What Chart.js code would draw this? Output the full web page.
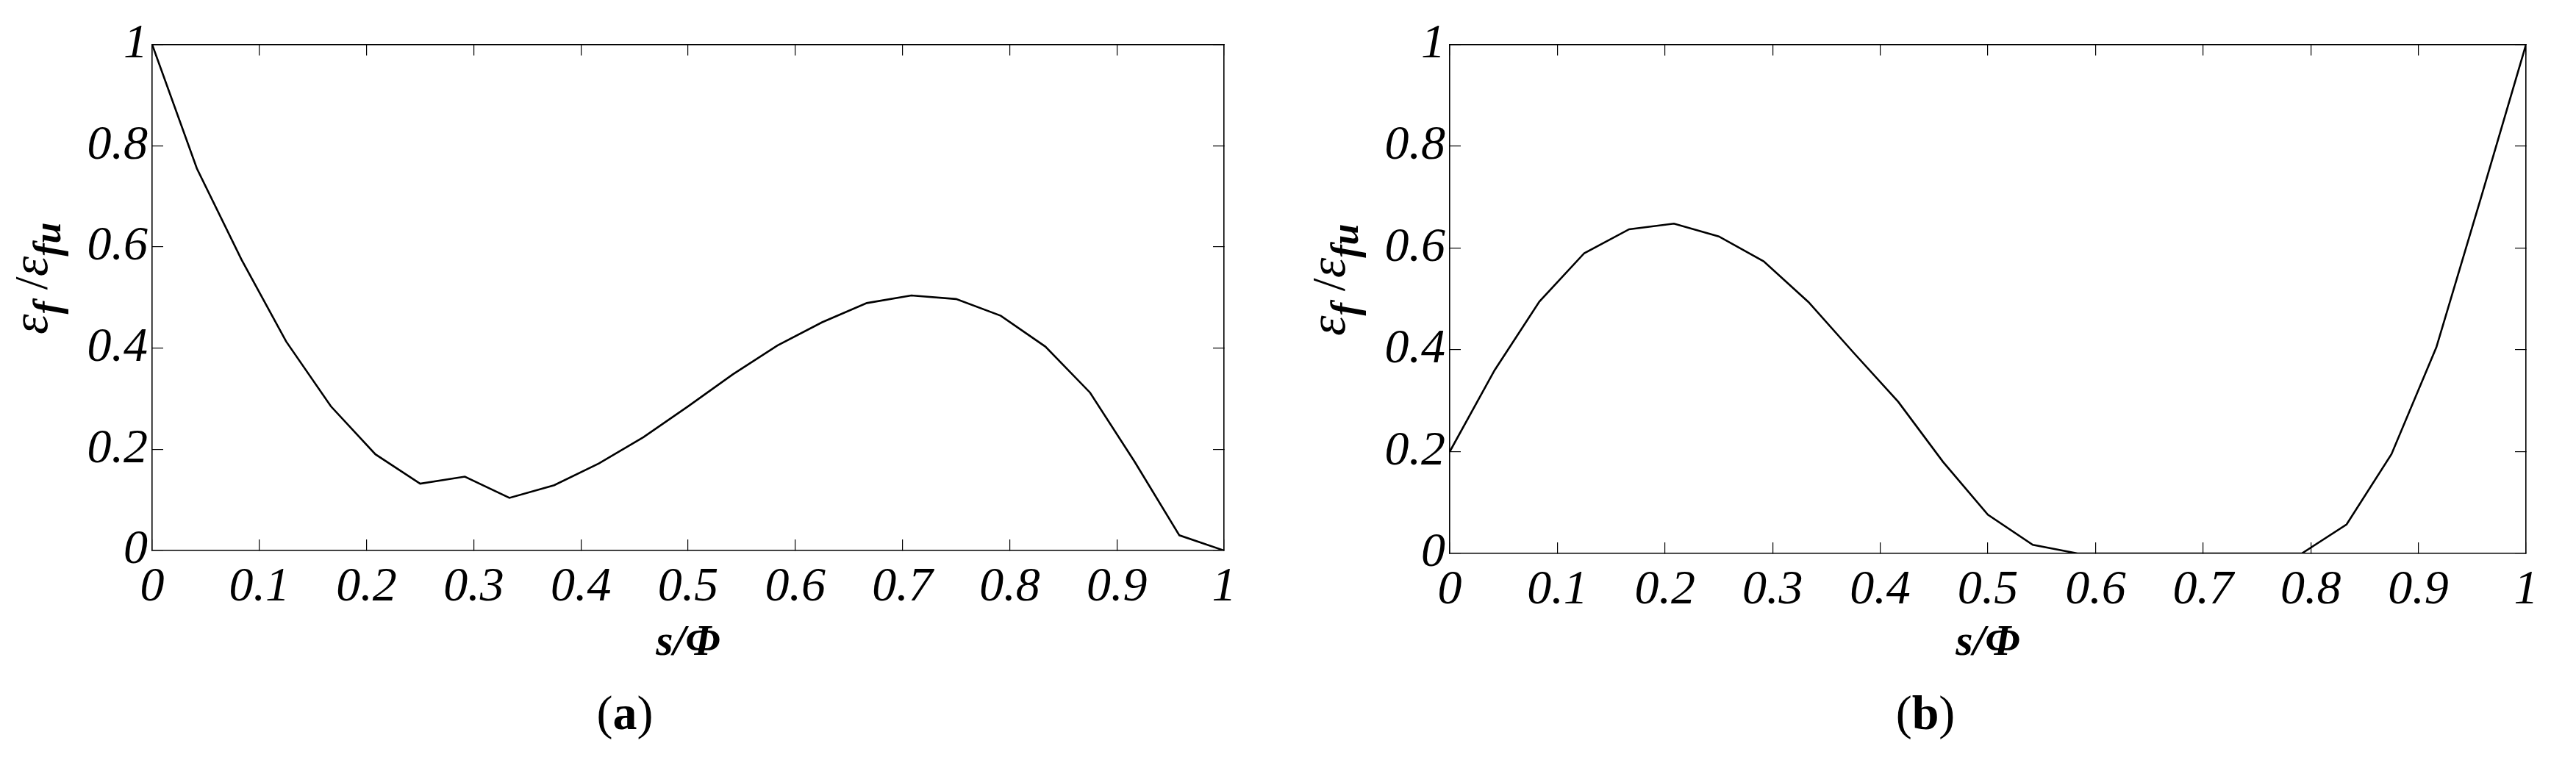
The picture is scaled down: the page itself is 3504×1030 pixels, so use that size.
<!DOCTYPE html>
<html><head><meta charset="utf-8">
<script src="https://cdn.jsdelivr.net/npm/chart.js@4"></script>
<style>
html,body{margin:0;padding:0;background:#fff;}
#wrap{position:relative;width:3504px;height:1030px;background:#fff;}
canvas{position:absolute;top:0;}
</style>
</head><body>
<div id="wrap">
<canvas id="ca" width="1752" height="1030" style="left:0px"></canvas>
<canvas id="cb" width="1752" height="1030" style="left:1752px"></canvas>
</div>
<script>
// ---- data ----
const sPhi = [0, 0.0417, 0.0833, 0.125, 0.1667, 0.2083, 0.25, 0.2917, 0.3333, 0.375, 0.4167, 0.4583, 0.5,
              0.5417, 0.5833, 0.625, 0.6667, 0.7083, 0.75, 0.7917, 0.8333, 0.875, 0.9167, 0.9583, 1];
const strainA = [1.0, 0.755, 0.575, 0.413, 0.285, 0.19, 0.132, 0.146, 0.104, 0.129, 0.172, 0.224, 0.285,
                 0.348, 0.405, 0.451, 0.489, 0.504, 0.497, 0.464, 0.403, 0.312, 0.175, 0.03, 0.0];
const strainB = [0.20, 0.36, 0.495, 0.59, 0.637, 0.648, 0.623, 0.574, 0.494, 0.395, 0.298, 0.18, 0.076,
                 0.017, 0.0, 0.0, 0.0, 0.0, 0.0, 0.0, 0.057, 0.195, 0.405, 0.70, 1.0];
const xTickValues = [0, 0.1, 0.2, 0.3, 0.4, 0.5, 0.6, 0.7, 0.8, 0.9, 1];
const xTickLabels = ['0', '0.1', '0.2', '0.3', '0.4', '0.5', '0.6', '0.7', '0.8', '0.9', '1'];
const yTickValues = [0, 0.2, 0.4, 0.6, 0.8, 1];
const yTickLabels = ['0', '0.2', '0.4', '0.6', '0.8', '1'];
const xTitle = 's/Φ';
const panelLetters = ['a', 'b'];

const SERIF = '"Liberation Serif", "Times New Roman", serif';
const tickFont = {family: SERIF, size: 66, style: 'italic', weight: 'normal', lineHeight: 1.2};

const textPlugin = {
  id: 'texts',
  afterDraw(chart, args, opts) {
    const ctx = chart.ctx, a = chart.chartArea;
    ctx.save();
    ctx.fillStyle = '#000';
    // x axis title
    ctx.textAlign = 'center';
    ctx.textBaseline = 'middle';
    ctx.font = 'bold italic 60px ' + SERIF;
    ctx.fillText(xTitle, (a.left + a.right) / 2, opts.xTitleY);
    // caption "(a)"
    const cap = [
      {t: '(', f: 'normal 66px ' + SERIF},
      {t: opts.letter, f: 'bold 66px ' + SERIF},
      {t: ')', f: 'normal 66px ' + SERIF}
    ];
    let w = 0;
    cap.forEach(p => { ctx.font = p.f; p.w = ctx.measureText(p.t).width; w += p.w; });
    let cx = opts.captionX - w / 2;
    ctx.textAlign = 'left';
    ctx.textBaseline = 'alphabetic';
    cap.forEach(p => { ctx.font = p.f; ctx.fillText(p.t, cx, opts.captionY); cx += p.w; });
    // y axis title: eps_f / eps_fu (rotated)
    const parts = [
      {t: 'ε', f: 'italic 70px ' + SERIF, dy: 0},
      {t: 'f', f: 'bold italic 52px ' + SERIF, dy: 18},
      {t: ' /', f: 'normal 64px ' + SERIF, dy: 0},
      {t: 'ε', f: 'italic 70px ' + SERIF, dy: 0},
      {t: 'fu', f: 'bold italic 52px ' + SERIF, dy: 18}
    ];
    let tw = 0;
    parts.forEach(p => { ctx.font = p.f; p.w = ctx.measureText(p.t).width; tw += p.w; });
    ctx.translate(a.left - 143, (a.top + a.bottom) / 2 - 26);
    ctx.rotate(-Math.PI / 2);
    let px = -tw / 2;
    parts.forEach(p => { ctx.font = p.f; ctx.fillText(p.t, px, p.dy); px += p.w; });
    ctx.restore();
  }
};

function axis(pos, isX, extra) {
  const base = {
    type: 'linear',
    position: pos,
    min: 0,
    max: 1,
    afterBuildTicks: s => { s.ticks = (isX ? xTickValues : yTickValues).map(v => ({value: v})); },
    grid: {display: true, drawOnChartArea: false, drawTicks: true, tickLength: -15, color: '#000', lineWidth: 1.2},
    border: {display: true, color: '#000', width: 1.6},
    ticks: {display: false}
  };
  return Object.assign(base, extra);
}

function makeChart(id, values, opts) {
  return new Chart(document.getElementById(id), {
    type: 'line',
    data: {
      datasets: [{
        data: sPhi.map((x, i) => ({x: x, y: values[i]})),
        borderColor: '#000',
        borderWidth: 2.6,
        pointRadius: 0,
        tension: 0,
        fill: false
      }]
    },
    options: {
      responsive: false,
      animation: false,
      events: [],
      layout: {padding: opts.padding},
      plugins: {legend: {display: false}, tooltip: {enabled: false}, texts: opts.texts},
      scales: {
        x: axis('bottom', true, {
          ticks: {display: true, autoSkip: false, maxRotation: 0, color: '#000', font: tickFont, padding: 26,
                  callback: (v, i) => xTickLabels[i]},
          afterFit: s => { s.height = opts.xAxisHeight; }
        }),
        x2: axis('top', true, {afterFit: s => { s.height = 0; }}),
        y: axis('left', false, {
          ticks: {display: true, autoSkip: false, color: '#000', font: tickFont, padding: 21,
                  callback: (v, i) => yTickLabels[i]},
          afterFit: s => { s.width = 120; }
        }),
        y2: axis('right', false, {afterFit: s => { s.width = 0; }})
      }
    },
    plugins: [textPlugin]
  });
}

makeChart('ca', strainA, {
  padding: {left: 87, right: 87, top: 44, bottom: 0},
  xAxisHeight: 281,
  texts: {letter: panelLetters[0], captionX: 850, captionY: 992, xTitleY: 875}
});
makeChart('cb', strainB, {
  padding: {left: 100, right: 68, top: 45, bottom: 0},
  xAxisHeight: 277,
  texts: {letter: panelLetters[1], captionX: 867, captionY: 992, xTitleY: 875}
});
</script>
</body></html>
